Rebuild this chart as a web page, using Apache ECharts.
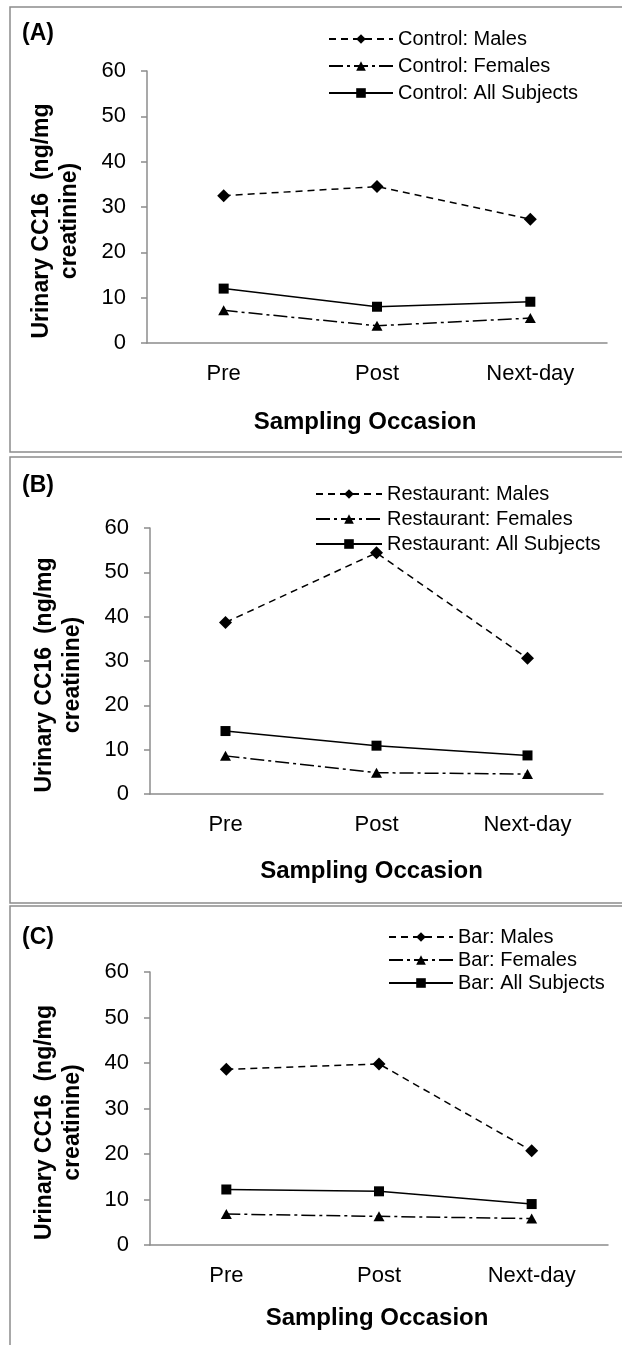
<!DOCTYPE html>
<html>
<head>
<meta charset="utf-8">
<script src="https://cdn.jsdelivr.net/npm/echarts@6/dist/echarts.min.js"></script>
<style>
html,body{margin:0;padding:0;background:#fff;}
#c{width:622px;height:1345px;}
</style>
</head>
<body>
<div id="c"></div>
<script>
// ---- data ----
const categories = ['Pre', 'Post', 'Next-day'];
const panelLabels = ['(A)', '(B)', '(C)'];
const groupNames = ['Control', 'Restaurant', 'Bar'];
const controlMales = [32.5, 34.5, 27.3];
const controlFemales = [7.2, 3.8, 5.5];
const controlAll = [12.0, 8.0, 9.1];
const restaurantMales = [38.7, 54.4, 30.6];
const restaurantFemales = [8.6, 4.8, 4.5];
const restaurantAll = [14.2, 10.9, 8.7];
const barMales = [38.6, 39.8, 20.7];
const barFemales = [6.8, 6.3, 5.8];
const barAll = [12.2, 11.8, 9.0];
const yMin = 0, yMax = 60, yStep = 10;
const yAxisTitle = 'Urinary CC16  (ng/mg\ncreatinine)';
const xAxisTitle = 'Sampling Occasion';

const panelData = [
  [controlMales, controlFemales, controlAll],
  [restaurantMales, restaurantFemales, restaurantAll],
  [barMales, barFemales, barAll]
];

// ---- layout (styles only) ----
const FONT = "'Liberation Sans', Arial, sans-serif";
const AXIS_COLOR = '#8c8c8c';
const layout = [
  {grid:{left:147, top:71, width:460, height:272}, xGap:67, xShift:24, legend:{left:323, top:24, itemWidth:64, gap:7}, label:{x:22, y:35}, frame:{y:7, h:445}},
  {grid:{left:150, top:528, width:453, height:266}, xGap:65, xShift:10, legend:{left:310, top:479, itemWidth:66, gap:5}, label:{x:22, y:487}, frame:{y:457, h:446}},
  {grid:{left:150, top:972, width:458, height:273}, xGap:61, xShift:4, legend:{left:383, top:922, itemWidth:64, gap:3}, label:{x:22, y:939}, frame:{y:906, h:500}}
];
const seriesStyles = [
  {suffix:'Males', symbol:'diamond', size:13, lineType:[7,5]},
  {suffix:'Females', symbol:'triangle', size:[11,10], lineType:[14,4,3,4]},
  {suffix:'All Subjects', symbol:'rect', size:10, lineType:'solid'}
];

const grids = [], xAxes = [], yAxes = [], series = [], legends = [], graphics = [];
layout.forEach((L, i) => {
  grids.push(Object.assign({containLabel:false}, L.grid));
  xAxes.push({
    type:'category', gridIndex:i, data:categories, boundaryGap:true,
    axisLine:{lineStyle:{color:AXIS_COLOR, width:1.5}},
    axisTick:{alignWithLabel:true, length:5, lineStyle:{color:AXIS_COLOR, width:1.5}},
    axisLabel:{color:'#000', fontSize:22, fontFamily:FONT, margin:20},
    name:xAxisTitle, nameLocation:'middle', nameGap:L.xGap,
    nameTextStyle:{color:'#000', fontSize:24, fontWeight:'bold', fontFamily:FONT, padding:[0, L.xShift, 0, 0]}
  });
  yAxes.push({
    type:'value', gridIndex:i, min:yMin, max:yMax, interval:yStep,
    splitLine:{show:false},
    axisLine:{show:true, lineStyle:{color:AXIS_COLOR, width:1.5}},
    axisTick:{show:true, length:6, lineStyle:{color:AXIS_COLOR, width:1.5}},
    axisLabel:{color:'#000', fontSize:22, fontFamily:FONT, margin:21},
    name:yAxisTitle, nameLocation:'middle', nameGap:63, nameRotate:90,
    nameTextStyle:{color:'#000', fontSize:23, fontWeight:'bold', fontFamily:FONT, lineHeight:28, padding:[0, 28, 0, 0]}
  });
  const names = [];
  seriesStyles.forEach((S, k) => {
    const nm = groupNames[i] + ': ' + S.suffix;
    names.push(nm);
    series.push({
      type:'line', name:nm, xAxisIndex:i, yAxisIndex:i, data:panelData[i][k],
      symbol:S.symbol, symbolSize:S.size, showSymbol:true,
      lineStyle:{color:'#000', width:1.5, type:S.lineType},
      itemStyle:{color:'#000'}, animation:false, z:3
    });
  });
  legends.push({
    data:names, orient:'vertical', left:L.legend.left, top:L.legend.top,
    itemWidth:L.legend.itemWidth, itemHeight:12, itemGap:L.legend.gap,
    textStyle:{color:'#000', fontSize:20, fontFamily:FONT},
    selectedMode:false
  });
  graphics.push({
    type:'rect', shape:{x:10, y:L.frame.y, width:700, height:L.frame.h},
    style:{fill:'none', stroke:AXIS_COLOR, lineWidth:1.5}, z:0, silent:true
  });
  graphics.push({
    type:'text', left:L.label.x, top:L.label.y - 13,
    style:{text:panelLabels[i], fill:'#000', font:'bold 23px ' + FONT}
  });
});

const chart = echarts.init(document.getElementById('c'), null, {renderer:'canvas'});
chart.setOption({
  backgroundColor:'#fff',
  animation:false,
  grid:grids, xAxis:xAxes, yAxis:yAxes, series:series, legend:legends,
  graphic:graphics
});
</script>
</body>
</html>
